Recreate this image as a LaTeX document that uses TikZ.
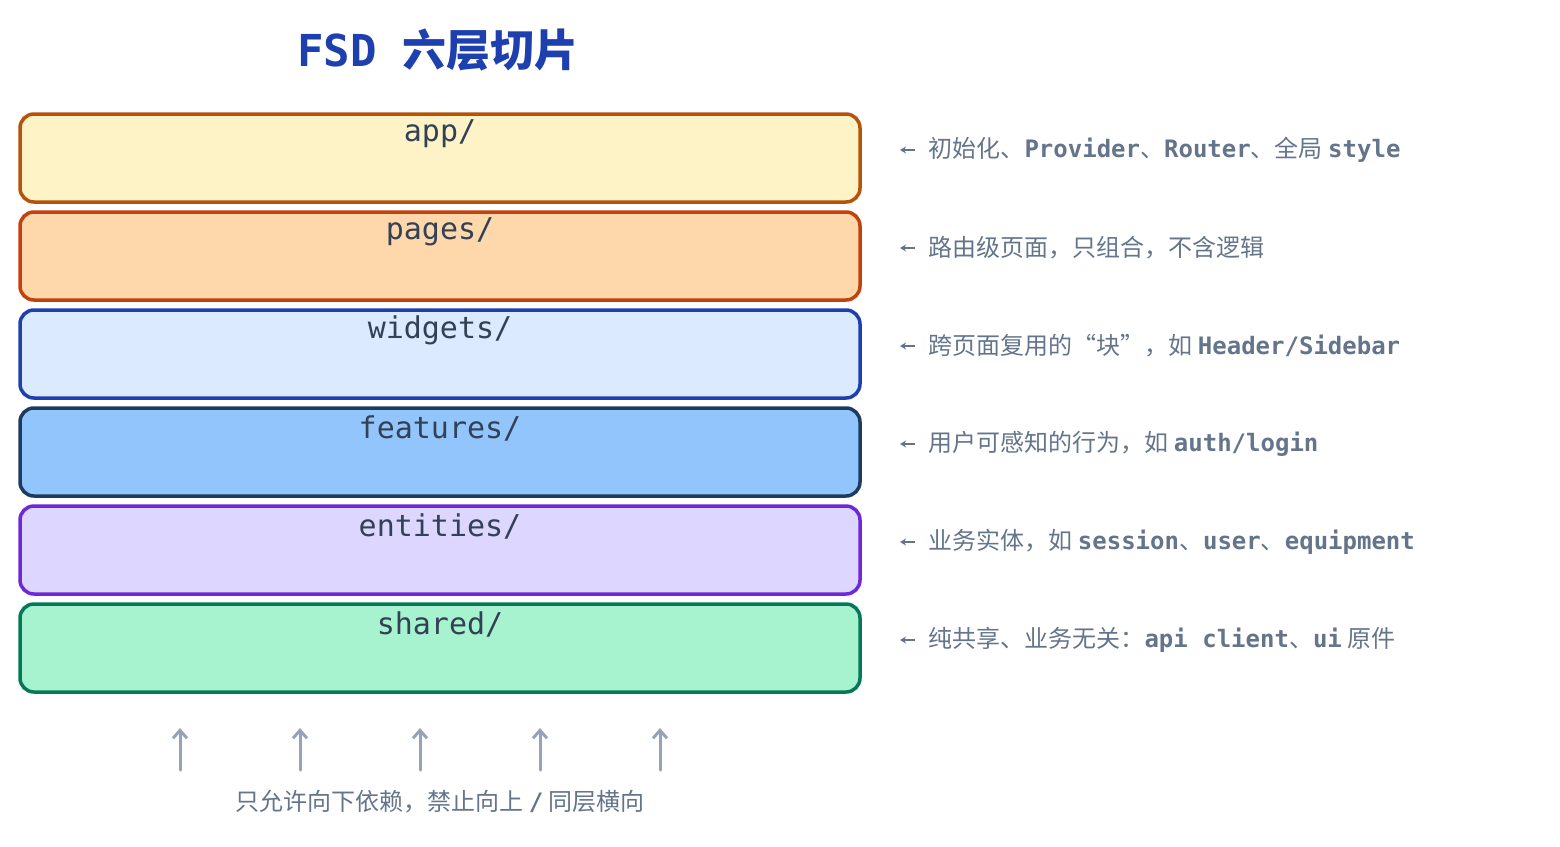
\documentclass[tikz,border=0pt]{standalone}
\usepackage{fontspec}
\setmonofont{DejaVu Sans Mono}
\newfontfamily\cjk{Noto Sans CJK SC}
\usetikzlibrary{arrows.meta}
\definecolor{txt}{HTML}{334155}
\definecolor{ann}{HTML}{64748B}
\definecolor{arr}{HTML}{94A3B8}
\definecolor{ttl}{HTML}{1E40AF}
\newcommand{\M}[1]{{\ttfamily\bfseries #1}}
\newcommand{\C}[1]{{\cjk #1}}
\begin{document}
\begin{tikzpicture}[x=1pt,y=-1pt,
 layer/.style={draw=#1,line width=3.5pt,rounded corners=14pt},
 lbl/.style={font=\fontsize{30}{32}\selectfont\ttfamily,text=txt,anchor=center},
 note/.style={font=\fontsize{24}{26}\selectfont,text=ann,anchor=west},
 tick/.style={ann,line width=1.5pt,-{Stealth[length=6pt,width=7pt]}},
 up/.style={arr,line width=3pt,line cap=round,-{Straight Barb[length=8pt,width=14pt]}}]
\useasboundingbox (0,0) rectangle (1560,846);
\node[font=\fontsize{44}{48}\selectfont\bfseries,text=ttl] (title) at (438,50) {\ttfamily FSD\ \cjk 六层切片};
\foreach \n/\y/\f/\d/\txt in {
 app/114/FEF3C7/B45309/{\C{初始化、}\M{Provider}\C{、}\M{Router}\C{、全局 }\M{style}},
 pages/212/FED7AA/C2410C/{\C{路由级页面，只组合，不含逻辑}},
 widgets/310/DBEAFE/1E40AF/{\C{跨页面复用的“块”，如 }\M{Header\slash Sidebar}},
 features/408/93C5FD/1E3A5F/{\C{用户可感知的行为，如 }\M{auth\slash login}},
 entities/506/DDD6FE/6D28D9/{\C{业务实体，如 }\M{session}\C{、}\M{user}\C{、}\M{equipment}},
 shared/604/A7F3D0/047857/{\C{纯共享、业务无关：}\M{api client}\C{、}\M{ui}\C{ 原件}}}{
 \definecolor{fc}{HTML}{\f}\definecolor{dc}{HTML}{\d}
 \draw[layer=dc,fill=fc] (20,\y) rectangle (860,\y+88);
 \node[lbl] (\n) at (440,\y+20) {\n\slash};
 \coordinate (\n a) at (915,\y+36);
 \coordinate (\n b) at (900,\y+36);
 \draw[tick] (\n a) -- (\n b);
 \node[note] (\n n) at (925,\y+36) {\txt};
}
\foreach \x in {180,300,420,540,660}{
 \coordinate (u\x) at (\x,770); \coordinate (v\x) at (\x,728);
 \draw[up] (u\x) -- (v\x);
}
\node[font=\fontsize{24}{26}\selectfont,text=ann] (foot) at (440,802) {\cjk 只允许向下依赖，禁止向上 {\ttfamily\bfseries /} 同层横向};
\end{tikzpicture}
\end{document}
